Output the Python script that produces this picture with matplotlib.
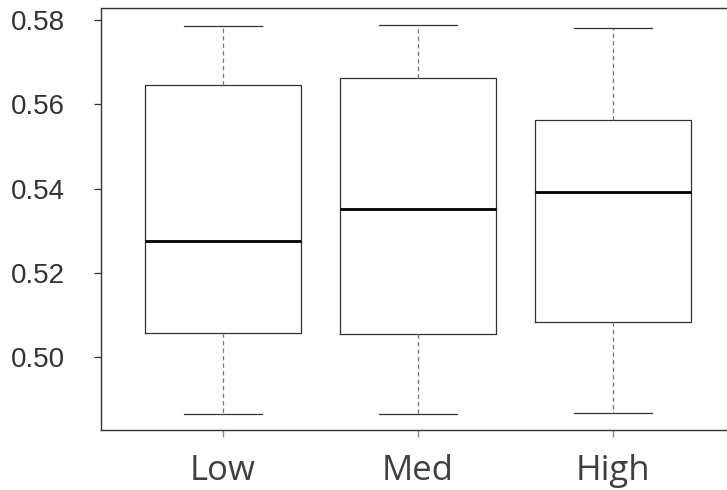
import matplotlib
matplotlib.use("Agg")
import matplotlib.pyplot as plt

# five-number summaries per group
groups = ["Low", "Med", "High"]
whislo = [0.4865, 0.4865, 0.4869]
q1 = [0.5058, 0.5055, 0.5084]
med = [0.5276, 0.5351, 0.5391]
q3 = [0.5647, 0.5662, 0.5564]
whishi = [0.5786, 0.5787, 0.5780]

yticks = [0.50, 0.52, 0.54, 0.56, 0.58]

stats = []
for i, g in enumerate(groups):
    stats.append({"label": g, "whislo": whislo[i], "q1": q1[i], "med": med[i],
                  "q3": q3[i], "whishi": whishi[i], "fliers": []})

fig = plt.figure(figsize=(7.27, 4.90), dpi=100)
ax = fig.add_axes([101 / 727, 60 / 490, 626 / 727, 421.5 / 490])

ax.bxp(stats, positions=[1, 2, 3], widths=0.8, showfliers=False,
       boxprops=dict(color="#333333", linewidth=0.9),
       medianprops=dict(color="black", linewidth=2.0),
       whiskerprops=dict(color="#777777", linewidth=0.9, linestyle=(0, (3.5, 2.5))),
       capprops=dict(color="#333333", linewidth=0.9),
       capwidths=0.4)

ax.set_xlim(0.374, 3.585)
ax.set_ylim(0.48278, 0.58273)

ax.spines["right"].set_visible(False)
for s in ["left", "top", "bottom"]:
    ax.spines[s].set_color("#333333")
    ax.spines[s].set_linewidth(1.0)

ax.set_yticks(yticks)
ax.set_yticklabels(["%.2f" % v for v in yticks], fontsize=20,
                   fontfamily="Liberation Sans", color="#333333")
ax.tick_params(axis="y", length=5, width=0.9, color="#333333", pad=21)

ax.set_xticks([1, 2, 3])
ax.set_xticklabels(groups, fontsize=25, fontfamily="Open Sans", color="#404040")
ax.tick_params(axis="x", length=5, width=1.0, color="#888888", pad=12)

fig.savefig("out.png", dpi=100)
